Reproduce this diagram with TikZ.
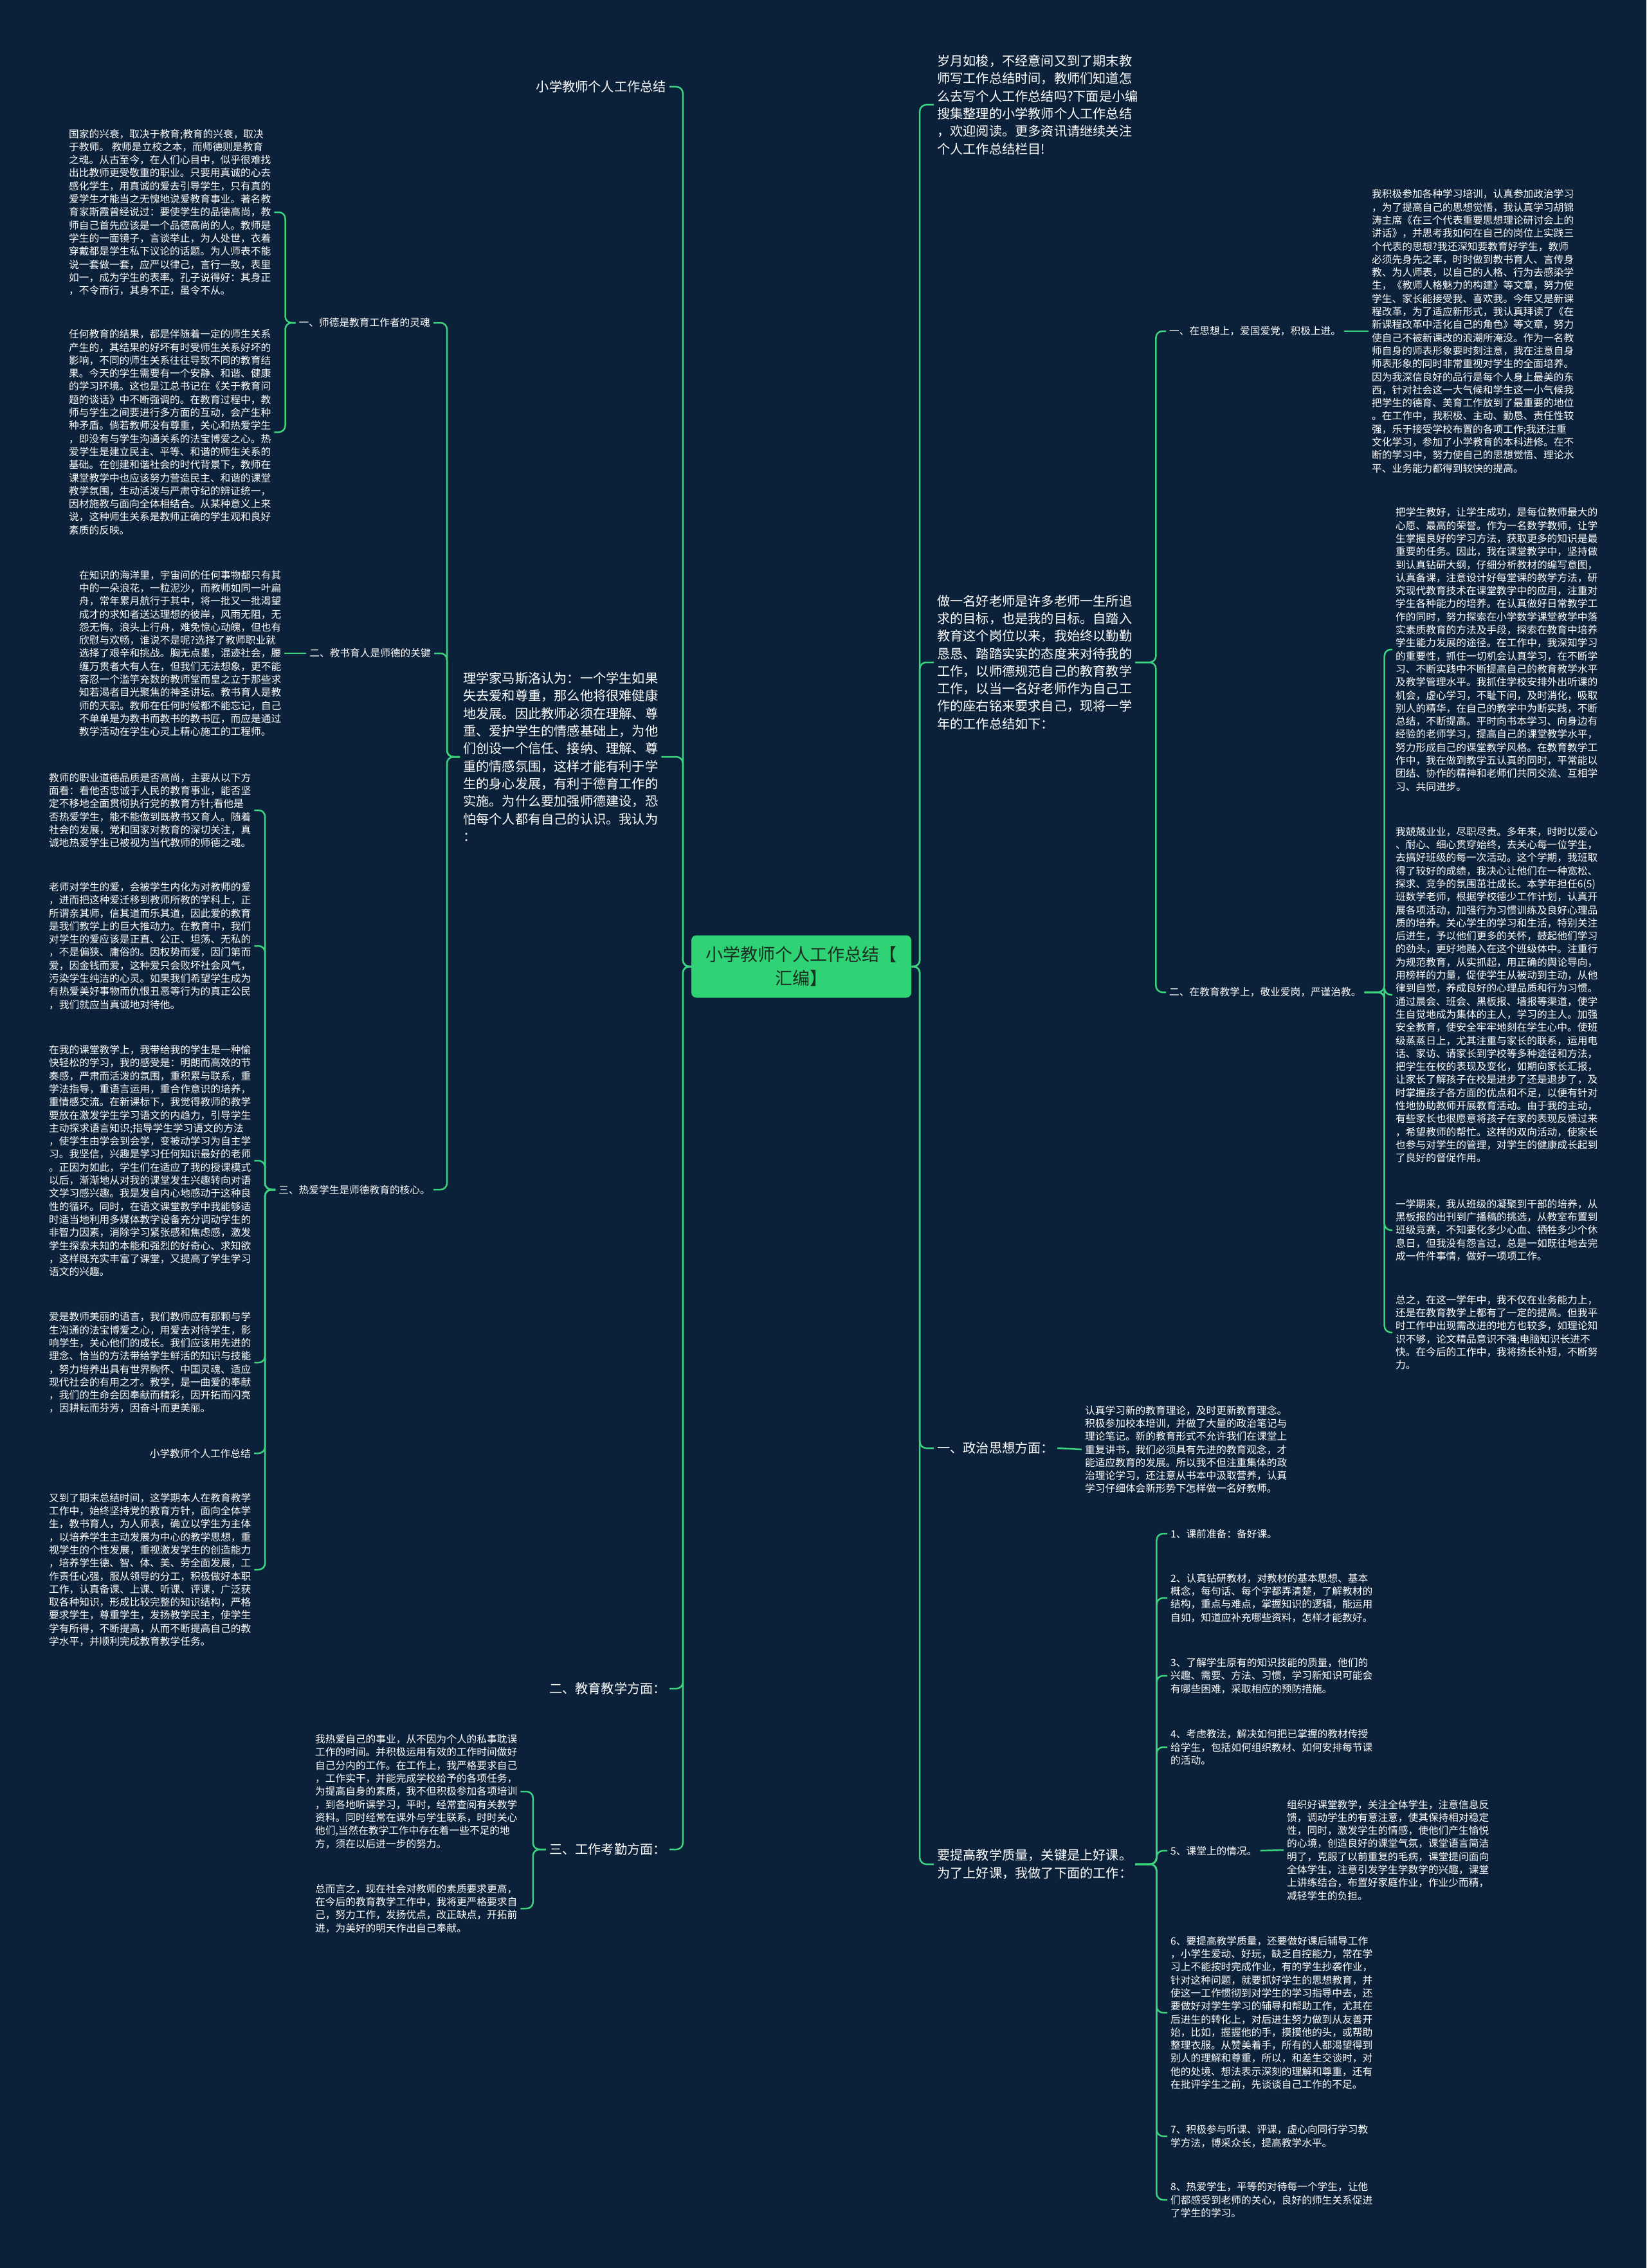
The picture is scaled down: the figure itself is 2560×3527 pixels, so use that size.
\documentclass[tikz,border=0pt]{standalone}
\usepackage{fontspec}
\setmainfont{Noto Sans CJK SC}
\usetikzlibrary{positioning}
\definecolor{bgblue}{HTML}{0B213A}
\definecolor{linegreen}{HTML}{3CD27E}
\definecolor{hubgreen}{HTML}{2FD274}
\definecolor{hubtext}{HTML}{1A2E22}

\begin{document}
\begin{tikzpicture}[
    x=1pt, y=-1pt,
    hub/.style={rectangle, rounded corners=8pt, fill=hubgreen, text=hubtext, minimum width=342pt, minimum height=97pt, align=center, font=\fontsize{27}{37}\selectfont},
    bigtext/.style={text=white, align=left, inner xsep=5pt, inner ysep=2pt, font=\fontsize{20.2}{27.3}\selectfont},
    smalltext/.style={text=white, align=left, inner xsep=5pt, inner ysep=2pt, font=\fontsize{15.7}{20.3}\selectfont},
    link/.style={draw=linegreen, line width=2.5pt, rounded corners=10pt}
]
\fill[bgblue] (0,0) rectangle (2560,3527);
\useasboundingbox (0,0) rectangle (2560,3527);

% Centre
\node[hub] (hub) at (1246,1503) {小学教师个人工作总结【\\汇编】};

% Left branches
\node[bigtext, anchor=east] (la) at (1041,135) {小学教师个人工作总结};
\node[bigtext, anchor=west] (lb) at (715,1177) {理学家马斯洛认为：一个学生如果\\
失去爱和尊重，那么他将很难健康\\
地发展。因此教师必须在理解、尊\\
重、爱护学生的情感基础上，为他\\
们创设一个信任、接纳、理解、尊\\
重的情感氛围，这样才能有利于学\\
生的身心发展，有利于德育工作的\\
实施。为什么要加强师德建设，恐\\
怕每个人都有自己的认识。我认为\\
：};
\node[bigtext, anchor=east] (lc) at (1041,2626) {二、教育教学方面：};
\node[bigtext, anchor=east] (ld) at (1041,2876) {三、工作考勤方面：};

% Sub topics of lb
\node[smalltext, anchor=east] (ethics) at (674,502) {一、师德是教育工作者的灵魂};
\node[smalltext, anchor=east] (teach) at (675,1016) {二、教书育人是师德的关键};
\node[smalltext, anchor=east] (love) at (674,1850) {三、热爱学生是师德教育的核心。};

\node[smalltext, anchor=west] (ethicsA) at (102,330) {国家的兴衰，取决于教育;教育的兴衰，取决\\
于教师。 教师是立校之本，而师德则是教育\\
之魂。从古至今，在人们心目中，似乎很难找\\
出比教师更受敬重的职业。只要用真诚的心去\\
感化学生，用真诚的爱去引导学生，只有真的\\
爱学生才能当之无愧地说爱教育事业。著名教\\
育家斯霞曾经说过：要使学生的品德高尚，教\\
师自己首先应该是一个品德高尚的人。教师是\\
学生的一面镜子，言谈举止，为人处世，衣着\\
穿戴都是学生私下议论的话题。为人师表不能\\
说一套做一套，应严以律己，言行一致，表里\\
如一，成为学生的表率。孔子说得好：其身正\\
，不令而行，其身不正，虽令不从。};
\node[smalltext, anchor=west] (ethicsB) at (102,672) {任何教育的结果，都是伴随着一定的师生关系\\
产生的，其结果的好坏有时受师生关系好坏的\\
影响，不同的师生关系往往导致不同的教育结\\
果。今天的学生需要有一个安静、和谐、健康\\
的学习环境。这也是江总书记在《关于教育问\\
题的谈话》中不断强调的。在教育过程中，教\\
师与学生之间要进行多方面的互动，会产生种\\
种矛盾。倘若教师没有尊重，关心和热爱学生\\
，即没有与学生沟通关系的法宝博爱之心。热\\
爱学生是建立民主、平等、和谐的师生关系的\\
基础。在创建和谐社会的时代背景下，教师在\\
课堂教学中也应该努力营造民主、和谐的课堂\\
教学氛围，生动活泼与严肃守纪的辨证统一，\\
因材施教与面向全体相结合。从某种意义上来\\
说，这种师生关系是教师正确的学生观和良好\\
素质的反映。};
\node[smalltext, anchor=west] (teachA) at (118,1016) {在知识的海洋里，宇宙间的任何事物都只有其\\
中的一朵浪花，一粒泥沙，而教师如同一叶扁\\
舟，常年累月航行于其中，将一批又一批渴望\\
成才的求知者送达理想的彼岸，风雨无阻，无\\
怨无悔。浪头上行舟，难免惊心动魄，但也有\\
欣慰与欢畅，谁说不是呢?选择了教师职业就\\
选择了艰辛和挑战。胸无点墨，混迹社会，腰\\
缠万贯者大有人在，但我们无法想象，更不能\\
容忍一个滥竽充数的教师堂而皇之立于那些求\\
知若渴者目光聚焦的神圣讲坛。教书育人是教\\
师的天职。教师在任何时候都不能忘记，自己\\
不单单是为教书而教书的教书匠，而应是通过\\
教学活动在学生心灵上精心施工的工程师。};
\node[smalltext, anchor=west] (loveA) at (71,1260) {教师的职业道德品质是否高尚，主要从以下方\\
面看：看他否忠诚于人民的教育事业，能否坚\\
定不移地全面贯彻执行党的教育方针;看他是\\
否热爱学生，能不能做到既教书又育人。随着\\
社会的发展，党和国家对教育的深切关注，真\\
诚地热爱学生已被视为当代教师的师德之魂。};
\node[smalltext, anchor=west] (loveB) at (71,1471) {老师对学生的爱，会被学生内化为对教师的爱\\
，进而把这种爱迁移到教师所教的学科上，正\\
所谓亲其师，信其道而乐其道，因此爱的教育\\
是我们教学上的巨大推动力。在教育中，我们\\
对学生的爱应该是正直、公正、坦荡、无私的\\
，不是偏狭、庸俗的。因权势而爱，因门第而\\
爱，因金钱而爱，这种爱只会败坏社会风气，\\
污染学生纯洁的心灵。如果我们希望学生成为\\
有热爱美好事物而仇恨丑恶等行为的真正公民\\
，我们就应当真诚地对待他。};
\node[smalltext, anchor=west] (loveC) at (71,1805) {在我的课堂教学上，我带给我的学生是一种愉\\
快轻松的学习，我的感受是：明朗而高效的节\\
奏感，严肃而活泼的氛围，重积累与联系，重\\
学法指导，重语言运用，重合作意识的培养，\\
重情感交流。在新课标下，我觉得教师的教学\\
要放在激发学生学习语文的内趋力，引导学生\\
主动探求语言知识;指导学生学习语文的方法\\
，使学生由学会到会学，变被动学习为自主学\\
习。我坚信，兴趣是学习任何知识最好的老师\\
。正因为如此，学生们在适应了我的授课模式\\
以后，渐渐地从对我的课堂发生兴趣转向对语\\
文学习感兴趣。我是发自内心地感动于这种良\\
性的循环。同时，在语文课堂教学中我能够适\\
时适当地利用多媒体教学设备充分调动学生的\\
非智力因素，消除学习紧张感和焦虑感，激发\\
学生探索未知的本能和强烈的好奇心、求知欲\\
，这样既充实丰富了课堂，又提高了学生学习\\
语文的兴趣。};
\node[smalltext, anchor=west] (loveD) at (71,2119) {爱是教师美丽的语言，我们教师应有那颗与学\\
生沟通的法宝博爱之心，用爱去对待学生，影\\
响学生，关心他们的成长。我们应该用先进的\\
理念、恰当的方法带给学生鲜活的知识与技能\\
，努力培养出具有世界胸怀、中国灵魂、适应\\
现代社会的有用之才。教学，是一曲爱的奉献\\
，我们的生命会因奉献而精彩，因开拓而闪亮\\
，因耕耘而芬芳，因奋斗而更美丽。};
\node[smalltext, anchor=east] (loveE) at (395,2260) {小学教师个人工作总结};
\node[smalltext, anchor=west] (loveF) at (71,2441) {又到了期末总结时间，这学期本人在教育教学\\
工作中，始终坚持党的教育方针，面向全体学\\
生，教书育人，为人师表，确立以学生为主体\\
，以培养学生主动发展为中心的教学思想，重\\
视学生的个性发展，重视激发学生的创造能力\\
，培养学生德、智、体、美、劳全面发展，工\\
作责任心强，服从领导的分工，积极做好本职\\
工作，认真备课、上课、听课、评课，广泛获\\
取各种知识，形成比较完整的知识结构，严格\\
要求学生，尊重学生，发扬教学民主，使学生\\
学有所得，不断提高，从而不断提高自己的教\\
学水平，并顺利完成教育教学任务。};

% Attendance
\node[smalltext, anchor=west] (dutyA) at (485,2786) {我热爱自己的事业，从不因为个人的私事耽误\\
工作的时间。并积极运用有效的工作时间做好\\
自己分内的工作。在工作上，我严格要求自己\\
，工作实干，并能完成学校给予的各项任务，\\
为提高自身的素质，我不但积极参加各项培训\\
，到各地听课学习，平时，经常查阅有关教学\\
资料。同时经常在课外与学生联系，时时关心\\
他们,当然在教学工作中存在着一些不足的地\\
方，须在以后进一步的努力。};
\node[smalltext, anchor=west] (dutyB) at (485,2968) {总而言之，现在社会对教师的素质要求更高，\\
在今后的教育教学工作中，我将更严格要求自\\
己，努力工作，发扬优点，改正缺点，开拓前\\
进，为美好的明天作出自己奉献。};

% Right branches
\node[bigtext, anchor=west] (ra) at (1452,163) {岁月如梭，不经意间又到了期末教\\
师写工作总结时间，教师们知道怎\\
么去写个人工作总结吗?下面是小编\\
搜集整理的小学教师个人工作总结\\
，欢迎阅读。更多资讯请继续关注\\
个人工作总结栏目!};
\node[bigtext, anchor=west] (rb) at (1452,1030) {做一名好老师是许多老师一生所追\\
求的目标，也是我的目标。自踏入\\
教育这个岗位以来，我始终以勤勤\\
恳恳、踏踏实实的态度来对待我的\\
工作，以师德规范自己的教育教学\\
工作，以当一名好老师作为自己工\\
作的座右铭来要求自己，现将一学\\
年的工作总结如下：};
\node[bigtext, anchor=west] (rc) at (1452,2252) {一、政治思想方面：};
\node[bigtext, anchor=west] (rd) at (1452,2899) {要提高教学质量，关键是上好课。\\
为了上好课，我做了下面的工作：};

% Sub topics of rb
\node[smalltext, anchor=west] (mind) at (1813,515) {一、在思想上，爱国爱党，积极上进。};
\node[smalltext, anchor=west] (work) at (1813,1543) {二、在教育教学上，敬业爱岗，严谨治教。};

\node[smalltext, anchor=west] (mindA) at (2128,515) {我积极参加各种学习培训，认真参加政治学习\\
，为了提高自己的思想觉悟，我认真学习胡锦\\
涛主席《在三个代表重要思想理论研讨会上的\\
讲话》，并思考我如何在自己的岗位上实践三\\
个代表的思想?我还深知要教育好学生，教师\\
必须先身先之率，时时做到教书育人、言传身\\
教、为人师表，以自己的人格、行为去感染学\\
生，《教师人格魅力的构建》等文章，努力使\\
学生、家长能接受我、喜欢我。今年又是新课\\
程改革，为了适应新形式，我认真拜读了《在\\
新课程改革中活化自己的角色》等文章，努力\\
使自己不被新课改的浪潮所淹没。作为一名教\\
师自身的师表形象要时刻注意，我在注意自身\\
师表形象的同时非常重视对学生的全面培养。\\
因为我深信良好的品行是每个人身上最美的东\\
西，针对社会这一大气候和学生这一小气候我\\
把学生的德育、美育工作放到了最重要的地位\\
。在工作中，我积极、主动、勤恳、责任性较\\
强，乐于接受学校布置的各项工作;我还注重\\
文化学习，参加了小学教育的本科进修。在不\\
断的学习中，努力使自己的思想觉悟、理论水\\
平、业务能力都得到较快的提高。};
\node[smalltext, anchor=west] (workA) at (2165,1010) {把学生教好，让学生成功，是每位教师最大的\\
心愿、最高的荣誉。作为一名数学教师，让学\\
生掌握良好的学习方法，获取更多的知识是最\\
重要的任务。因此，我在课堂教学中，坚持做\\
到认真钻研大纲，仔细分析教材的编写意图，\\
认真备课，注意设计好每堂课的教学方法，研\\
究现代教育技术在课堂教学中的应用，注重对\\
学生各种能力的培养。在认真做好日常教学工\\
作的同时，努力探索在小学数学课堂教学中落\\
实素质教育的方法及手段，探索在教育中培养\\
学生能力发展的途径。在工作中，我深知学习\\
的重要性，抓住一切机会认真学习，在不断学\\
习、不断实践中不断提高自己的教育教学水平\\
及教学管理水平。我抓住学校安排外出听课的\\
机会，虚心学习，不耻下问，及时消化，吸取\\
别人的精华，在自己的教学中为断实践，不断\\
总结，不断提高。平时向书本学习、向身边有\\
经验的老师学习，提高自己的课堂教学水平，\\
努力形成自己的课堂教学风格。在教育教学工\\
作中，我在做到教学五认真的同时，平常能以\\
团结、协作的精神和老师们共同交流、互相学\\
习、共同进步。};
\node[smalltext, anchor=west] (workB) at (2165,1547) {我兢兢业业，尽职尽责。多年来，时时以爱心\\
、耐心、细心贯穿始终，去关心每一位学生，\\
去搞好班级的每一次活动。这个学期，我班取\\
得了较好的成绩，我决心让他们在一种宽松、\\
探求、竞争的氛围茁壮成长。本学年担任6(5)\\
班数学老师，根据学校德少工作计划，认真开\\
展各项活动，加强行为习惯训练及良好心理品\\
质的培养。关心学生的学习和生活，特别关注\\
后进生，予以他们更多的关怀，鼓起他们学习\\
的劲头，更好地融入在这个班级体中。注重行\\
为规范教育，从实抓起，用正确的舆论导向，\\
用榜样的力量，促使学生从被动到主动，从他\\
律到自觉，养成良好的心理品质和行为习惯。\\
通过晨会、班会、黑板报、墙报等渠道，使学\\
生自觉地成为集体的主人，学习的主人。加强\\
安全教育，使安全牢牢地刻在学生心中。使班\\
级蒸蒸日上，尤其注重与家长的联系，运用电\\
话、家访、请家长到学校等多种途径和方法，\\
把学生在校的表现及变化，如期向家长汇报，\\
让家长了解孩子在校是进步了还是退步了，及\\
时掌握孩子各方面的优点和不足，以便有针对\\
性地协助教师开展教育活动。由于我的主动，\\
有些家长也很愿意将孩子在家的表现反馈过来\\
，希望教师的帮忙。这样的双向活动，使家长\\
也参与对学生的管理，对学生的健康成长起到\\
了良好的督促作用。};
\node[smalltext, anchor=west] (workC) at (2165,1913) {一学期来，我从班级的凝聚到干部的培养，从\\
黑板报的出刊到广播稿的挑选，从教室布置到\\
班级竞赛，不知要化多少心血、牺牲多少个休\\
息日，但我没有怨言过，总是一如既往地去完\\
成一件件事情，做好一项项工作。};
\node[smalltext, anchor=west] (workD) at (2165,2072) {总之，在这一学年中，我不仅在业务能力上，\\
还是在教育教学上都有了一定的提高。但我平\\
时工作中出现需改进的地方也较多，如理论知\\
识不够，论文精品意识不强;电脑知识长进不\\
快。在今后的工作中，我将扬长补短，不断努\\
力。};

% Politics
\node[smalltext, anchor=west] (polA) at (1682,2254) {认真学习新的教育理论，及时更新教育理念。\\
积极参加校本培训，并做了大量的政治笔记与\\
理论笔记。新的教育形式不允许我们在课堂上\\
重复讲书，我们必须具有先进的教育观念，才\\
能适应教育的发展。所以我不但注重集体的政\\
治理论学习，还注意从书本中汲取营养，认真\\
学习仔细体会新形势下怎样做一名好教师。};

% Lesson items
\node[smalltext, anchor=west] (item1) at (1815,2385) {1、课前准备：备好课。};
\node[smalltext, anchor=west] (item2) at (1815,2485) {2、认真钻研教材，对教材的基本思想、基本\\
概念，每句话、每个字都弄清楚，了解教材的\\
结构，重点与难点，掌握知识的逻辑，能运用\\
自如，知道应补充哪些资料，怎样才能教好。};
\node[smalltext, anchor=west] (item3) at (1815,2606) {3、了解学生原有的知识技能的质量，他们的\\
兴趣、需要、方法、习惯，学习新知识可能会\\
有哪些困难，采取相应的预防措施。};
\node[smalltext, anchor=west] (item4) at (1815,2717) {4、考虑教法，解决如何把已掌握的教材传授\\
给学生，包括如何组织教材、如何安排每节课\\
的活动。};
\node[smalltext, anchor=west] (item5) at (1815,2878) {5、课堂上的情况。};
\node[smalltext, anchor=west] (item5A) at (1996,2877) {组织好课堂教学，关注全体学生，注意信息反\\
馈，调动学生的有意注意，使其保持相对稳定\\
性，同时，激发学生的情感，使他们产生愉悦\\
的心境，创造良好的课堂气氛，课堂语言简洁\\
明了，克服了以前重复的毛病，课堂提问面向\\
全体学生，注意引发学生学数学的兴趣，课堂\\
上讲练结合，布置好家庭作业，作业少而精，\\
减轻学生的负担。};
\node[smalltext, anchor=west] (item6) at (1815,3130) {6、要提高教学质量，还要做好课后辅导工作\\
，小学生爱动、好玩，缺乏自控能力，常在学\\
习上不能按时完成作业，有的学生抄袭作业，\\
针对这种问题，就要抓好学生的思想教育，并\\
使这一工作惯彻到对学生的学习指导中去，还\\
要做好对学生学习的辅导和帮助工作，尤其在\\
后进生的转化上，对后进生努力做到从友善开\\
始，比如，握握他的手，摸摸他的头，或帮助\\
整理衣服。从赞美着手，所有的人都渴望得到\\
别人的理解和尊重，所以，和差生交谈时，对\\
他的处境、想法表示深刻的理解和尊重，还有\\
在批评学生之前，先谈谈自己工作的不足。};
\node[smalltext, anchor=west] (item7) at (1815,3322) {7、积极参与听课、评课，虚心向同行学习教\\
学方法，博采众长，提高教学水平。};
\node[smalltext, anchor=west] (item8) at (1815,3421) {8、热爱学生，平等的对待每一个学生，让他\\
们都感受到老师的关心，良好的师生关系促进\\
了学生的学习。};

% Connections from centre
\foreach \n in {la,lb,lc,ld}
    \draw[link] (hub.west) -- ++(-13,0) |- (\n.east);
\foreach \n in {ra,rb,rc,rd}
    \draw[link] (hub.east) -- ++(13,0) |- (\n.west);

% Left sub branches
\foreach \n in {ethics,teach,love}
    \draw[link] (lb.west) -- ++(-20,0) |- (\n.east);
\foreach \n in {ethicsA,ethicsB}
    \draw[link] (ethics.west) -- ++(-16,0) |- (\n.east);
\draw[link] (teach.west) -- (teachA.east);
\foreach \n in {loveA,loveB,loveC,loveD,loveE,loveF}
    \draw[link] (love.west) -- ++(-16,0) |- (\n.east);
\foreach \n in {dutyA,dutyB}
    \draw[link] (ld.west) -- ++(-20,0) |- (\n.east);

% Right sub branches
\foreach \n in {mind,work}
    \draw[link] (rb.east) -- ++(32,0) |- (\n.west);
\draw[link] (mind.east) -- (mindA.west);
\foreach \n in {workA,workB,workC,workD}
    \draw[link] (work.east) -- ++(31,0) |- (\n.west);
\draw[link] (rc.east) -- (polA.west);
\foreach \n in {item1,item2,item3,item4,item5,item6,item7,item8}
    \draw[link] (rd.east) -- ++(33,0) |- (\n.west);
\draw[link] (item5.east) -- (item5A.west);

\end{tikzpicture}
\end{document}
